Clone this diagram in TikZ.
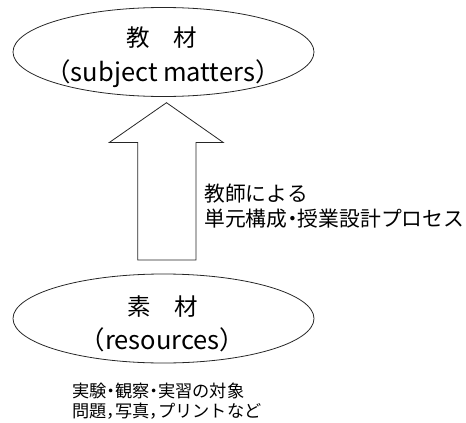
\documentclass[tikz,border=0pt]{standalone}
\usepackage{fontspec}
\setmainfont{Noto Sans CJK JP}
\newfontfamily\jpfix[Kerning=Off]{Noto Sans CJK JP}
\usetikzlibrary{shapes.geometric}
\newcommand{\hdot}{\kern-0.25em・\kern-0.25em}
\newcommand{\hcomma}{，\kern-0.5em}
\tikzset{
  ell/.style={draw=black!85, line width=0.8pt, ellipse, minimum width=301pt, minimum height=89pt, inner sep=0pt},
  arrowshape/.style={draw=black!85, line width=0.8pt, line join=miter},
  ttl/.style={anchor=base, inner sep=0pt, font=\jpfix\fontsize{23.5}{28}\selectfont},
  lat/.style={anchor=base, inner sep=0pt, font=\fontsize{25.5}{30}\selectfont},
  side/.style={anchor=base west, inner sep=0pt, font=\jpfix\fontsize{20.8}{24}\selectfont},
  note/.style={anchor=base west, inner sep=0pt, font=\jpfix\fontsize{17.2}{20}\selectfont}
}
\begin{document}
\begin{tikzpicture}[x=1pt,y=-1pt]
\useasboundingbox (0,0) rectangle (466,423);
\node[ell] (top) at (163.5,52) {};
\node[ell] (bot) at (163.5,318.5) {};
\node[ttl] (t1) at (161.5,46.4) {教\hspace{1em}材};
\node[lat] (t2) at (163,81) {（subject matters）};
\node[ttl] (b1) at (162.5,315) {素\hspace{1em}材};
\node[lat] (b2) at (162.5,349) {（resources）};
\draw[arrowshape] (166.5,102.7) -- (223.3,142.5) -- (196,142.5) -- (196,260) -- (137.7,260) -- (137.7,142.5) -- (109.3,142.5) -- cycle;
\node[side] (s1) at (204,201.8) {教師による};
\node[side] (s2) at (204,226) {単元構成\hdot 授業設計プロセス};
\node[note] (n1) at (72,397) {実験\hdot 観察\hdot 実習の対象};
\node[note] (n2) at (72,417) {問題\hcomma 写真\hcomma プリントなど};
\end{tikzpicture}
\end{document}
